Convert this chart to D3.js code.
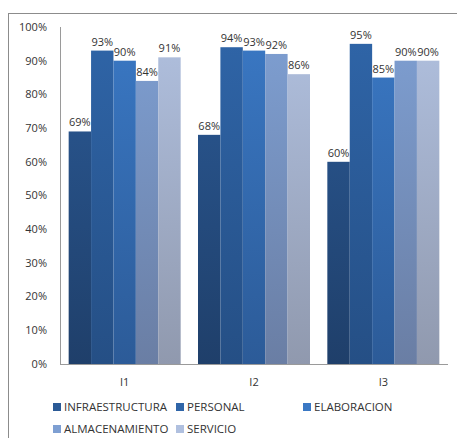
<!DOCTYPE html>
<html lang="es">
<head>
<meta charset="UTF-8">
<title>Indicadores</title>
<script src="https://d3js.org/d3.v7.min.js"></script>
<style>
  body { margin: 0; background: #fff; }
  svg text { font-family: "Open Sans", "Liberation Sans", sans-serif; fill: #333; }
</style>
</head>
<body>
<script>
// data
const groups = ['I1', 'I2', 'I3'];
const seriesNames = ['INFRAESTRUCTURA', 'PERSONAL', 'ELABORACION', 'ALMACENAMIENTO', 'SERVICIO'];
const infraestructura = [69, 68, 60];
const personal = [93, 94, 95];
const elaboracion = [90, 93, 85];
const almacenamiento = [84, 92, 90];
const servicio = [91, 86, 90];
const yTicks = [0, 10, 20, 30, 40, 50, 60, 70, 80, 90, 100];

const seriesValues = [infraestructura, personal, elaboracion, almacenamiento, servicio];
// top / bottom gradient colours per series
const topColors = ['#2b5a96', '#2f65a8', '#3a78c4', '#7e9fd2', '#b0c0df'];
const bottomColors = ['#1f3f6a', '#254f85', '#2c5b98', '#6a7ea4', '#9099ae'];

const width = 457, height = 438;
const svg = d3.select('body').append('svg')
    .attr('width', width)
    .attr('height', height);

// outer frame
svg.append('rect')
    .attr('x', 8.5).attr('y', 13.5)
    .attr('width', 470).attr('height', 440)
    .attr('fill', 'none')
    .attr('stroke', '#8c8c8c')
    .attr('stroke-width', 1);

const defs = svg.append('defs');
seriesNames.forEach((s, i) => {
    const g = defs.append('linearGradient')
        .attr('id', 'grad' + i)
        .attr('gradientUnits', 'userSpaceOnUse')
        .attr('x1', 0).attr('x2', 0)
        .attr('y1', 27).attr('y2', 364);
    g.append('stop').attr('offset', '0%').attr('stop-color', topColors[i]);
    g.append('stop').attr('offset', '100%').attr('stop-color', bottomColors[i]);
});

const x0 = d3.scaleBand()
    .domain(groups)
    .range([60, 448])
    .paddingInner(0.134)
    .paddingOuter(0.067);

const x1 = d3.scaleBand()
    .domain(seriesNames)
    .range([0, x0.bandwidth()]);

const y = d3.scaleLinear()
    .domain([0, 100])
    .range([364, 27]);

// y axis line
svg.append('line')
    .attr('x1', 60.5).attr('x2', 60.5)
    .attr('y1', y(100)).attr('y2', y(0))
    .attr('stroke', '#9a9a9a');

// y tick labels
svg.selectAll('.ytick')
    .data(yTicks)
    .enter().append('text')
    .attr('class', 'ytick')
    .attr('x', 47)
    .attr('y', d => y(d))
    .attr('dy', '0.35em')
    .attr('text-anchor', 'end')
    .style('font-size', '11px')
    .text(d => d + '%');

// bars
const grp = svg.selectAll('.grp')
    .data(groups)
    .enter().append('g')
    .attr('class', 'grp')
    .attr('transform', d => `translate(${x0(d)},0)`);

grp.selectAll('rect')
    .data((g, gi) => seriesNames.map((s, si) => ({ s, si, v: seriesValues[si][gi] })))
    .enter().append('rect')
    .attr('x', d => x1(d.s))
    .attr('y', d => y(d.v))
    .attr('width', x1.bandwidth())
    .attr('height', d => y(0) - y(d.v))
    .attr('fill', d => `url(#grad${d.si})`);

grp.selectAll('.lbl')
    .data((g, gi) => seriesNames.map((s, si) => ({ s, si, v: seriesValues[si][gi] })))
    .enter().append('text')
    .attr('class', 'lbl')
    .attr('x', d => x1(d.s) + x1.bandwidth() / 2)
    .attr('y', d => y(d.v) - 5)
    .attr('text-anchor', 'middle')
    .style('font-size', '11px')
    .text(d => d.v + '%');

// x axis line
svg.append('line')
    .attr('x1', 60).attr('x2', 448)
    .attr('y1', y(0) + 0.5).attr('y2', y(0) + 0.5)
    .attr('stroke', '#9a9a9a');

svg.selectAll('.xlbl')
    .data(groups)
    .enter().append('text')
    .attr('class', 'xlbl')
    .attr('x', d => x0(d) + x0.bandwidth() / 2)
    .attr('y', 382)
    .attr('dy', '0.35em')
    .attr('text-anchor', 'middle')
    .style('font-size', '11px')
    .text(d => d);

// legend
const legendPos = [[53, 407], [176, 407], [303, 407], [53, 429], [176, 429]];
const leg = svg.selectAll('.leg')
    .data(seriesNames)
    .enter().append('g')
    .attr('class', 'leg')
    .attr('transform', (d, i) => `translate(${legendPos[i][0]},${legendPos[i][1]})`);

leg.append('rect')
    .attr('x', 0).attr('y', -4)
    .attr('width', 8).attr('height', 8)
    .attr('fill', (d, i) => topColors[i]);

leg.append('text')
    .attr('x', 11)
    .attr('y', 0)
    .attr('dy', '0.35em')
    .style('font-size', '11.5px')
    .text(d => d);
</script>
</body>
</html>
